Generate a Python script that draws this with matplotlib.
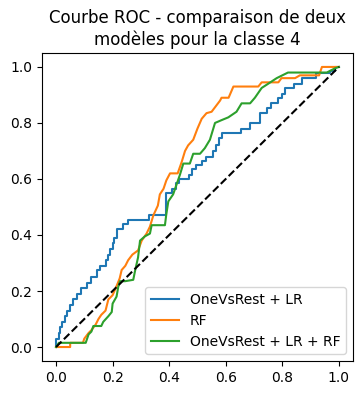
import numpy as np
import matplotlib
matplotlib.use("Agg")
import matplotlib.pyplot as plt

# OneVsRest + LR : (fpr where level starts, tpr level), drawn as steps
lr_fpr = [0.0, 0.0, 0.01, 0.015, 0.02, 0.03, 0.04, 0.05, 0.06, 0.075, 0.09, 0.11,
          0.125, 0.145, 0.155, 0.175, 0.185, 0.19, 0.2, 0.205, 0.215, 0.235, 0.255,
          0.33, 0.39, 0.41, 0.425, 0.435, 0.47, 0.48, 0.495, 0.515, 0.53, 0.555,
          0.565, 0.575, 0.585, 0.655, 0.685, 0.72, 0.745, 0.76, 0.785, 0.80, 0.81,
          0.84, 0.87, 0.92, 0.97, 0.985, 1.0]
lr_tpr = [0.0, 0.03, 0.05, 0.07, 0.09, 0.11, 0.13, 0.15, 0.17, 0.19, 0.21, 0.23,
          0.25, 0.275, 0.29, 0.31, 0.33, 0.35, 0.37, 0.39, 0.42, 0.44, 0.455,
          0.47, 0.55, 0.565, 0.585, 0.60, 0.615, 0.635, 0.65, 0.665, 0.68, 0.70,
          0.72, 0.745, 0.765, 0.78, 0.80, 0.835, 0.855, 0.87, 0.89, 0.905, 0.925,
          0.94, 0.96, 0.98, 0.985, 1.0, 1.0]

# RF
rf_fpr = [0.0, 0.05, 0.05, 0.095, 0.10, 0.115, 0.125, 0.14, 0.15, 0.16, 0.175,
          0.185, 0.2, 0.215, 0.225, 0.232, 0.245, 0.255, 0.27, 0.29, 0.303, 0.32,
          0.332, 0.344, 0.36, 0.367, 0.38, 0.39, 0.403, 0.43, 0.444, 0.456, 0.467,
          0.485, 0.50, 0.515, 0.532, 0.55, 0.58, 0.585, 0.61, 0.627, 0.715, 0.727,
          0.786, 0.797, 0.845, 0.862, 0.93, 0.94, 1.0]
rf_tpr = [0.0, 0.0, 0.015, 0.015, 0.03, 0.05, 0.06, 0.08, 0.10, 0.115, 0.13,
          0.17, 0.185, 0.22, 0.245, 0.275, 0.29, 0.31, 0.33, 0.345, 0.38, 0.405,
          0.43, 0.47, 0.505, 0.545, 0.565, 0.595, 0.62, 0.62, 0.66, 0.70, 0.72,
          0.74, 0.78, 0.815, 0.835, 0.84, 0.88, 0.89, 0.89, 0.93, 0.93, 0.945,
          0.945, 0.96, 0.96, 0.97, 0.97, 1.0, 1.0]

# OneVsRest + LR + RF
mix_fpr = [0.0, 0.01, 0.105, 0.115, 0.125, 0.132, 0.16, 0.167, 0.185, 0.197, 0.2,
           0.214, 0.22, 0.226, 0.244, 0.273, 0.279, 0.29, 0.297, 0.314, 0.332,
           0.338, 0.385, 0.39, 0.397, 0.414, 0.426, 0.438, 0.45, 0.473, 0.485,
           0.509, 0.526, 0.544, 0.562, 0.585, 0.609, 0.638, 0.656, 0.686, 0.703,
           0.727, 0.75, 0.78, 0.82, 0.957, 0.986, 1.0]
mix_tpr = [0.0, 0.015, 0.015, 0.045, 0.055, 0.075, 0.075, 0.09, 0.11, 0.125, 0.155,
           0.18, 0.215, 0.235, 0.235, 0.24, 0.27, 0.32, 0.38, 0.395, 0.405,
           0.435, 0.435, 0.475, 0.52, 0.545, 0.58, 0.615, 0.655, 0.655, 0.69,
           0.69, 0.71, 0.74, 0.80, 0.81, 0.82, 0.84, 0.87, 0.87, 0.89,
           0.925, 0.94, 0.96, 0.98, 0.98, 0.995, 1.0]

fig = plt.figure(figsize=(3.61, 3.95), dpi=100)
ax = fig.add_subplot(111)
fig.subplots_adjust(left=0.116, right=0.978, bottom=0.086, top=0.866)

ax.plot(lr_fpr, lr_tpr, drawstyle='steps-post', label='OneVsRest + LR')
ax.plot(rf_fpr, rf_tpr, label='RF')
ax.plot(mix_fpr, mix_tpr, label='OneVsRest + LR + RF')
ax.plot([0, 1], [0, 1], 'k--')

ax.set_title("Courbe ROC - comparaison de deux\nmodèles pour la classe 4")
ax.legend(loc='lower right')

plt.savefig('out.png', dpi=100)
